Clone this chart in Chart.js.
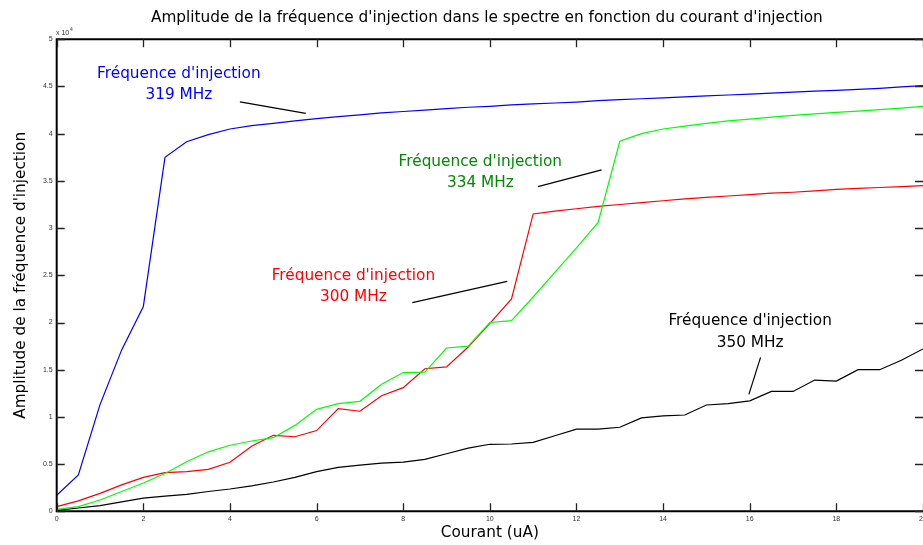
<!DOCTYPE html>
<html>
<head>
<meta charset="utf-8">
<script src="https://cdn.jsdelivr.net/npm/chart.js@4.4.1/dist/chart.umd.min.js"></script>
<style>
  html, body { margin: 0; padding: 0; background: #fff; overflow: hidden; }
  #wrap { width: 923px; height: 545px; }
</style>
</head>
<body>
<div id="wrap"><canvas id="amplitude" width="923" height="545"></canvas></div>
<script>
// Courant d'injection (uA)
const courant = [0, 0.5, 1, 1.5, 2, 2.5, 3, 3.5, 4, 4.5, 5, 5.5, 6, 6.5, 7, 7.5, 8, 8.5, 9, 9.5,
  10, 10.5, 11, 11.5, 12, 12.5, 13, 13.5, 14, 14.5, 15, 15.5, 16, 16.5, 17, 17.5, 18, 18.5, 19, 19.5, 20];

// Amplitude mesurée pour chaque fréquence d'injection
const amp319 = [1700, 3850, 11300, 17100, 21700, 37500, 39150, 39900, 40500, 40850, 41100, 41350,
  41600, 41800, 42000, 42200, 42350, 42500, 42650, 42800, 42900, 43050, 43150, 43250, 43350, 43500,
  43600, 43700, 43800, 43900, 44000, 44100, 44200, 44300, 44400, 44500, 44600, 44700, 44800, 44950, 45100];
const amp334 = [200, 500, 1200, 2100, 3000, 4000, 5250, 6300, 7000, 7450, 7800, 9100, 10800, 11400,
  11650, 13450, 14700, 14750, 17300, 17500, 20000, 20200, 22700, 25300, 27900, 30600, 39200, 40000,
  40500, 40800, 41100, 41350, 41550, 41750, 41950, 42100, 42250, 42400, 42550, 42700, 42900];
const amp300 = [500, 1100, 1900, 2800, 3600, 4100, 4200, 4450, 5200, 6900, 8050, 7900, 8550, 10870,
  10600, 12250, 13100, 15100, 15300, 17400, 19900, 22500, 31500, 31800, 32050, 32300, 32500, 32700,
  32900, 33100, 33250, 33400, 33550, 33700, 33800, 33950, 34100, 34200, 34300, 34400, 34500];
const amp350 = [100, 350, 600, 1000, 1400, 1600, 1800, 2100, 2360, 2700, 3100, 3600, 4200, 4660,
  4900, 5100, 5200, 5500, 6100, 6700, 7100, 7130, 7300, 8000, 8700, 8700, 8900, 9900, 10100, 10200,
  11260, 11400, 11700, 12700, 12700, 13900, 13800, 15000, 15000, 16000, 17200];

const xTicks = [0, 2, 4, 6, 8, 10, 12, 14, 16, 18, 20];
const yTicks = [0, 5000, 10000, 15000, 20000, 25000, 30000, 35000, 40000, 45000, 50000];

const TITRE = "Amplitude de la fréquence d'injection dans le spectre en fonction du courant d'injection";

// Étiquettes des courbes : texte, couleur, position (x, y) et trait de rappel
const etiquettes = [
  { lignes: ["Fréquence d'injection", '319 MHz'], couleur: '#0000ff', x: 2.82, y: [46300, 44100],
    trait: [[4.23, 43380], [5.75, 42160]] },
  { lignes: ["Fréquence d'injection", '334 MHz'], couleur: '#008a00', x: 9.78, y: [37000, 34750],
    trait: [[11.11, 34390], [12.58, 36160]] },
  { lignes: ["Fréquence d'injection", '300 MHz'], couleur: '#ff0000', x: 6.85, y: [24900, 22700],
    trait: [[8.21, 22100], [10.40, 24360]] },
  { lignes: ["Fréquence d'injection", '350 MHz'], couleur: '#000000', x: 16.01, y: [20160, 17800],
    trait: [[15.98, 12390], [16.25, 16310]] }
];

const FONT = '"DejaVu Sans", sans-serif';
const TICK_FONT = '"Liberation Sans", Arial, sans-serif';

const serie = (vals, color) => ({
  data: courant.map((c, i) => ({ x: c, y: vals[i] })),
  borderColor: color,
  borderWidth: 1.2,
  pointRadius: 0,
  tension: 0,
  fill: false
});

// cadre façon matlab : bordure, graduations vers l'intérieur, titre centré sur les axes, annotations
const cadre = {
  id: 'cadre',
  afterDraw(chart) {
    const { ctx, chartArea: a, scales: { x, y } } = chart;
    ctx.save();
    ctx.strokeStyle = '#000';
    ctx.lineWidth = 2;
    ctx.beginPath();
    ctx.moveTo(a.right, a.top);
    ctx.lineTo(a.left, a.top);
    ctx.lineTo(a.left, a.bottom);
    ctx.lineTo(a.right, a.bottom);
    ctx.stroke();

    ctx.lineWidth = 1.3;
    ctx.strokeStyle = '#222';
    ctx.beginPath();
    xTicks.forEach(v => {
      const px = Math.round(x.getPixelForValue(v)) + 0.5;
      ctx.moveTo(px, a.bottom); ctx.lineTo(px, a.bottom - 8);
      ctx.moveTo(px, a.top); ctx.lineTo(px, a.top + 8);
    });
    yTicks.forEach(v => {
      const py = Math.round(y.getPixelForValue(v)) + 0.5;
      ctx.moveTo(a.left, py); ctx.lineTo(a.left + 8, py);
      ctx.moveTo(a.right, py); ctx.lineTo(a.right - 8, py);
    });
    ctx.stroke();

    // titre
    ctx.fillStyle = '#000';
    ctx.font = `15.3px ${FONT}`;
    ctx.textAlign = 'center';
    ctx.textBaseline = 'middle';
    ctx.fillText(TITRE, (a.left + a.right) / 2 - 3, 18.5);

    // multiplicateur de l'axe y
    ctx.fillStyle = '#333';
    ctx.textBaseline = 'alphabetic';
    ctx.textAlign = 'left';
    ctx.font = `7px ${TICK_FONT}`;
    ctx.fillText('x 10', 56, 35);
    ctx.font = `5px ${TICK_FONT}`;
    ctx.fillText('4', 70, 31);

    // étiquettes des courbes
    ctx.font = `15.3px ${FONT}`;
    ctx.textAlign = 'center';
    ctx.textBaseline = 'middle';
    etiquettes.forEach(e => {
      ctx.fillStyle = e.couleur;
      e.lignes.forEach((t, i) => ctx.fillText(t, x.getPixelForValue(e.x), y.getPixelForValue(e.y[i])));
      ctx.strokeStyle = '#000';
      ctx.lineWidth = 1.2;
      ctx.beginPath();
      ctx.moveTo(x.getPixelForValue(e.trait[0][0]), y.getPixelForValue(e.trait[0][1]));
      ctx.lineTo(x.getPixelForValue(e.trait[1][0]), y.getPixelForValue(e.trait[1][1]));
      ctx.stroke();
    });
    ctx.restore();
  }
};

new Chart(document.getElementById('amplitude'), {
  type: 'line',
  data: {
    datasets: [
      serie(amp319, '#0000ff'),
      serie(amp334, '#00ff00'),
      serie(amp300, '#ff0000'),
      serie(amp350, '#000000')
    ]
  },
  options: {
    responsive: false,
    animation: false,
    devicePixelRatio: 1,
    layout: { padding: { top: 39.3, right: 0, bottom: 0, left: 0 } },
    plugins: {
      legend: { display: false },
      tooltip: { enabled: false },
      title: { display: false }
    },
    scales: {
      x: {
        type: 'linear',
        min: 0,
        max: 20,
        grid: { display: false, drawTicks: false },
        border: { display: false },
        afterBuildTicks: s => { s.ticks = xTicks.map(v => ({ value: v })); },
        afterFit: s => { s.height = 33.7; s.paddingLeft = 0; s.paddingRight = 0; },
        ticks: {
          padding: 4,
          maxRotation: 0,
          color: '#333',
          font: { family: TICK_FONT, size: 7 }
        },
        title: {
          display: true,
          text: 'Courant (uA)',
          color: '#000',
          font: { family: FONT, size: 15.3, lineHeight: 1.2 },
          padding: { top: 0, bottom: 3 }
        }
      },
      y: {
        min: 0,
        max: 50000,
        grid: { display: false, drawTicks: false },
        border: { display: false },
        afterBuildTicks: s => { s.ticks = yTicks.map(v => ({ value: v })); },
        afterFit: s => { s.width = 56.7; s.paddingTop = 0; s.paddingBottom = 0; },
        ticks: {
          padding: 4,
          color: '#333',
          font: { family: TICK_FONT, size: 7 },
          callback: v => String(v / 10000)
        },
        title: {
          display: true,
          text: "Amplitude de la fréquence d'injection",
          color: '#000',
          font: { family: FONT, size: 15.3, lineHeight: 1.2 },
          padding: { top: 11.5, bottom: 0 }
        }
      }
    }
  },
  plugins: [cadre]
});
</script>
</body>
</html>
